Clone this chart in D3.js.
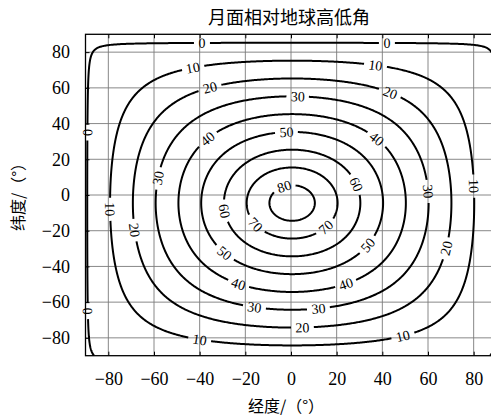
<!DOCTYPE html>
<html>
<head>
<meta charset="utf-8">
<script src="https://cdn.jsdelivr.net/npm/d3@7"></script>
<style>
    body { margin: 0; background: #fff; }
    svg { display: block; }
</style>
</head>
<body>
<div class="grafico"></div>
<script>
// niveles de contorno (grados de elevacion)
const niveles = [0, 10, 20, 30, 40, 50, 60, 70, 80];
const ticksLon = [-80, -60, -40, -20, 0, 20, 40, 60, 80];
const ticksLat = [-80, -60, -40, -20, 0, 20, 40, 60, 80];
const rangoLon = [-90, 90];
const rangoLat = [-90, 90];

// punto sub-terrestre (grados) y geometria Tierra-Luna (km)
const subLon = 0.5;
const subLat = -4.5;
const radioLuna = 1737.4;
const distTierra = 384400;

// etiquetas de contorno: [nivel, lon, lat]
const etiquetas = [
    [0, -39, 86], [0, 42, 86], [0, -89, 35], [0, -89, -65],
    [10, -43, 72], [10, 37, 74], [10, -80, -8], [10, 80, 5], [10, -40, -79], [10, 49, -78],
    [20, -35, 59], [20, 44, 58], [20, -70, -20], [20, 69, -30], [20, 5, -73],
    [30, 3, 56], [30, -57, 9], [30, 60, 2], [30, -16, -62], [30, 12, -64],
    [40, -37, 32], [40, 38, 32], [40, -23, -49], [40, 24, -49],
    [50, -2, 36], [50, -29, -32], [50, 33, -27],
    [60, -29, -9], [60, 29, 6],
    [70, -15, -16], [70, 14, -16],
    [80, -3, 6]
];

const ancho = 491, alto = 417;
const izq = 85.5, der = 496.5, arriba = 34.3, abajo = 355.7;
const fuenteNum = '"Liberation Serif", "Times New Roman", serif';
const fuenteCJK = '"Noto Sans CJK SC", sans-serif';

const x = d3.scaleLinear().domain(rangoLon).range([izq, der]);
const y = d3.scaleLinear().domain(rangoLat).range([abajo, arriba]);

// malla de elevacion de la Tierra vista desde la superficie lunar
const paso = 0.5;
const n = Math.round((rangoLon[1] - rangoLon[0]) / paso) + 1;
const m = Math.round((rangoLat[1] - rangoLat[0]) / paso) + 1;
const rad = Math.PI / 180;
const valores = new Float64Array(n * m);
for (let j = 0; j < m; j++) {
    const lat = rangoLat[1] - j * paso;
    for (let i = 0; i < n; i++) {
        const lon = rangoLon[0] + i * paso;
        const c = Math.cos((lat - subLat) * rad) * Math.cos((lon - subLon) * rad);
        const s = Math.sqrt(Math.max(0, 1 - c * c));
        valores[j * n + i] = Math.atan2(c - radioLuna / distTierra, s) / rad;
    }
}

const contornos = d3.contours().size([n, m]).thresholds(niveles)(valores);

// pasar anillos a pixeles, cortando en el borde de la malla
const lineas = [];
contornos.forEach(ct => {
    ct.coordinates.forEach(poligono => {
        poligono.forEach(anillo => {
            let tramo = [];
            let cortado = false;
            anillo.forEach(p => {
                const borde = p[0] <= 0 || p[0] >= n || p[1] <= 0 || p[1] >= m;
                if (borde) {
                    cortado = true;
                    if (tramo.length > 1) lineas.push({ nivel: ct.value, pts: tramo, cerrada: false });
                    tramo = [];
                } else {
                    const lon = rangoLon[0] + (p[0] - 0.5) * paso;
                    const lat = rangoLat[1] - (p[1] - 0.5) * paso;
                    tramo.push([x(lon), y(lat)]);
                }
            });
            if (tramo.length > 1) lineas.push({ nivel: ct.value, pts: tramo, cerrada: !cortado });
        });
    });
});

lineas.forEach(l => {
    const s = [0];
    for (let i = 1; i < l.pts.length; i++) {
        s.push(s[i - 1] + Math.hypot(l.pts[i][0] - l.pts[i - 1][0], l.pts[i][1] - l.pts[i - 1][1]));
    }
    l.s = s;
    l.L = s[s.length - 1];
    l.cortes = [];
});

const tamEtiqueta = 14;
const textos = [];
etiquetas.forEach(([nivel, lon, lat]) => {
    const px = x(lon), py = y(lat);
    let mejor = null, dMin = Infinity, iMin = 0;
    lineas.filter(l => l.nivel === nivel).forEach(l => {
        l.pts.forEach((p, i) => {
            const d = Math.hypot(p[0] - px, p[1] - py);
            if (d < dMin) { dMin = d; mejor = l; iMin = i; }
        });
    });
    if (!mejor) return;
    const s0 = mejor.s[iMin];
    const buscar = objetivo => {
        let k = d3.bisectLeft(mejor.s, objetivo);
        return mejor.pts[Math.max(0, Math.min(mejor.pts.length - 1, k))];
    };
    const a = buscar(s0 - 5), b = buscar(s0 + 5);
    let ang = Math.atan2(b[1] - a[1], b[0] - a[0]) * 180 / Math.PI;
    if (ang > 90) ang -= 180;
    if (ang <= -90) ang += 180;
    const texto = String(nivel);
    const w = texto.length * 0.5 * tamEtiqueta;
    mejor.cortes.push({ s: s0, h: w / 2 + 4 });
    textos.push({ texto: texto, x: mejor.pts[iMin][0], y: mejor.pts[iMin][1], ang: ang });
});

// dividir lineas en los huecos de las etiquetas
const tramos = [];
lineas.forEach(l => {
    const dentro = l.s.map(v => l.cortes.some(c => {
        let d = Math.abs(v - c.s);
        if (l.cerrada) d = Math.min(d, l.L - d);
        return d < c.h;
    }));
    let partes = [], actual = [];
    l.pts.forEach((p, i) => {
        if (dentro[i]) {
            if (actual.length > 1) partes.push(actual);
            actual = [];
        } else actual.push(p);
    });
    if (actual.length > 1) partes.push(actual);
    if (l.cerrada && l.cortes.length && partes.length > 1 && !dentro[0] && !dentro[l.pts.length - 1]) {
        const ultima = partes.pop();
        partes[0] = ultima.concat(partes[0]);
    }
    partes.forEach(p => tramos.push(p));
});

const svg = d3.select('.grafico').append('svg')
    .attr('width', ancho)
    .attr('height', alto);

svg.append('defs').append('clipPath').attr('id', 'recorte')
    .append('rect')
    .attr('x', izq).attr('y', arriba)
    .attr('width', der - izq).attr('height', abajo - arriba);

// cuadricula
const rejilla = svg.append('g').attr('stroke', '#7a7a7a').attr('stroke-width', 0.9);
rejilla.selectAll('.gx').data(ticksLon).enter().append('line')
    .attr('x1', d => x(d)).attr('x2', d => x(d))
    .attr('y1', arriba).attr('y2', abajo);
rejilla.selectAll('.gy').data(ticksLat).enter().append('line')
    .attr('x1', izq).attr('x2', der)
    .attr('y1', d => y(d)).attr('y2', d => y(d));

// contornos
const linea = d3.line();
svg.append('g')
    .attr('clip-path', 'url(#recorte)')
    .selectAll('path')
    .data(tramos)
    .enter().append('path')
    .attr('d', linea)
    .attr('fill', 'none')
    .attr('stroke', '#000')
    .attr('stroke-width', 2)
    .attr('stroke-linejoin', 'round');

svg.append('g')
    .selectAll('text')
    .data(textos)
    .enter().append('text')
    .attr('transform', d => 'translate(' + d.x + ',' + d.y + ') rotate(' + d.ang + ')')
    .attr('text-anchor', 'middle')
    .attr('dy', '0.35em')
    .style('font-family', fuenteNum)
    .style('font-size', tamEtiqueta + 'px')
    .text(d => d.texto);

// ejes con marcas hacia dentro
const estiloEje = g => {
    g.select('.domain').remove();
    g.selectAll('.tick line').attr('stroke', '#000').attr('stroke-width', 1);
    g.selectAll('.tick text')
        .style('font-family', fuenteNum)
        .style('font-size', '18px')
        .attr('fill', '#000');
};

svg.append('g')
    .attr('transform', 'translate(0,' + abajo + ')')
    .call(d3.axisBottom(x).tickValues(ticksLon).tickSize(-4).tickPadding(16.5))
    .call(estiloEje);

svg.append('g')
    .attr('transform', 'translate(0,' + arriba + ')')
    .call(d3.axisTop(x).tickValues(ticksLon).tickSize(-4).tickFormat(''))
    .call(estiloEje);

svg.append('g')
    .attr('transform', 'translate(' + izq + ',0)')
    .call(d3.axisLeft(y).tickValues(ticksLat).tickSize(-4).tickPadding(15.5))
    .call(estiloEje);

svg.append('rect')
    .attr('x', izq).attr('y', arriba)
    .attr('width', der - izq).attr('height', abajo - arriba)
    .attr('fill', 'none')
    .attr('stroke', '#000')
    .attr('stroke-width', 1.3);

// titulos
svg.append('text')
    .attr('x', 289).attr('y', 24)
    .attr('text-anchor', 'middle')
    .style('font-family', fuenteCJK)
    .style('font-size', '18px')
    .text('月面相对地球高低角');

svg.append('text')
    .attr('x', 286).attr('y', 412)
    .attr('text-anchor', 'middle')
    .style('font-family', fuenteCJK)
    .style('font-size', '16px')
    .text('经度/（°）');

svg.append('text')
    .attr('transform', 'translate(24,193) rotate(-90)')
    .attr('text-anchor', 'middle')
    .style('font-family', fuenteCJK)
    .style('font-size', '16px')
    .text('纬度/（°）');
</script>
</body>
</html>
